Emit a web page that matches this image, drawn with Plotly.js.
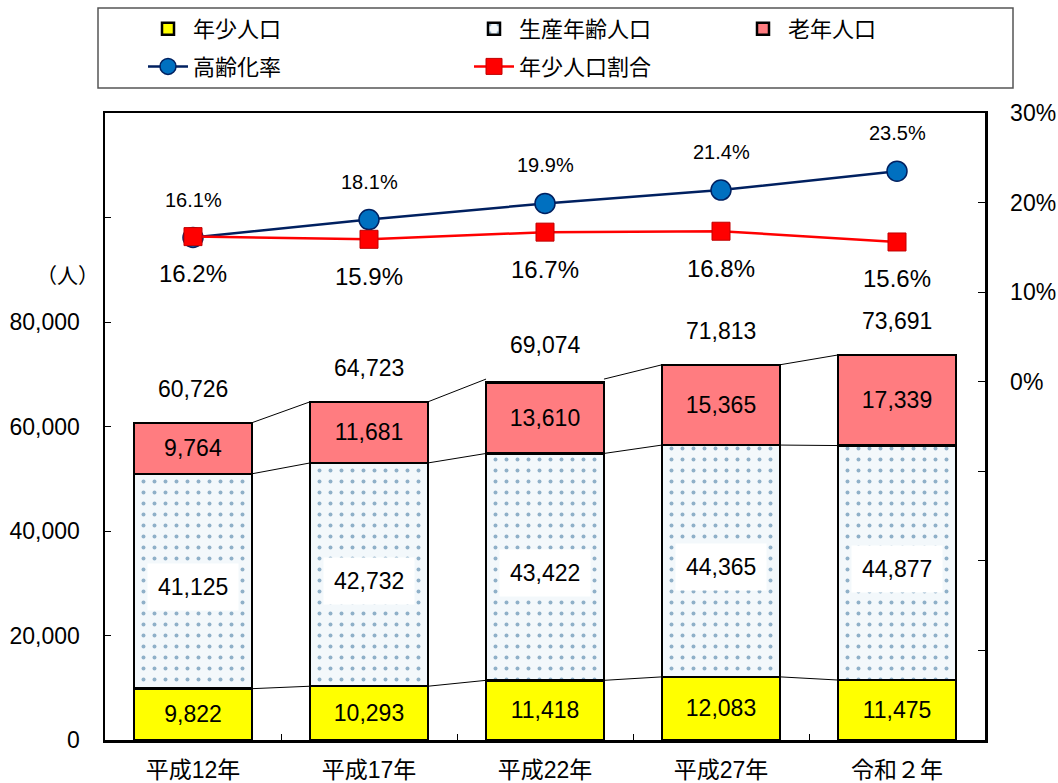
<!DOCTYPE html>
<html>
<head>
<meta charset="utf-8">
<script src="https://cdn.plot.ly/plotly-3.0.1.min.js"></script>
<style>
  html, body { margin: 0; padding: 0; background: #fff; }
  #chart { width: 1058px; height: 783px; }
</style>
</head>
<body>
<div id="chart"></div>
<script>
const categories = ['平成12年', '平成17年', '平成22年', '平成27年', '令和２年'];
const youngPop = [9822, 10293, 11418, 12083, 11475];
const workingPop = [41125, 42732, 43422, 44365, 44877];
const elderlyPop = [9764, 11681, 13610, 15365, 17339];
const totalPop = [60726, 64723, 69074, 71813, 73691];
const agingRate = [16.1, 18.1, 19.9, 21.4, 23.5];
const youngRatio = [16.2, 15.9, 16.7, 16.8, 15.6];
const leftTickVals = [0, 20000, 40000, 60000, 80000, 100000, 120000];
const leftTickText = ['0', '20,000', '40,000', '60,000', '80,000', '', ''];
const rightTickVals = [-40, -30, -20, -10, 0, 10, 20, 30];
const rightTickText = ['', '', '', '', '0%', '10%', '20%', '30%'];

const FONT = 'Liberation Sans, Arial, "Noto Sans CJK JP", sans-serif';
const BAR_W = 0.67;
const fmt = v => v.toLocaleString('en-US');

const barCommon = {
  type: 'bar', x: categories, width: BAR_W,
  textposition: 'inside', insidetextanchor: 'middle',
  textfont: { family: FONT, size: 23, color: '#000' },
  constraintext: 'none', hoverinfo: 'skip'
};

const traces = [
  Object.assign({}, barCommon, {
    name: '年少人口', y: youngPop, texttemplate: '%{y:,}',
    legend: 'legend', legendgroup: 'g1',
    marker: { color: '#ffff00', line: { color: '#000', width: 2.5 } }
  }),
  Object.assign({}, barCommon, {
    name: '生産年齢人口', y: workingPop, texttemplate: '',
    legend: 'legend2', legendgroup: 'g2',
    marker: { color: '#ffffff', line: { color: '#000', width: 2.5 },
      pattern: { shape: '.', fgcolor: '#8fb0c8', bgcolor: '#f3f8fb', size: 11, solidity: 0.1 } }
  }),
  Object.assign({}, barCommon, {
    name: '老年人口', y: elderlyPop, texttemplate: '%{y:,}',
    legend: 'legend3', legendgroup: 'g3',
    marker: { color: '#ff7c80', line: { color: '#000', width: 2.5 } }
  }),
  {
    type: 'scatter', mode: 'lines+markers', name: '高齢化率', x: categories, y: agingRate, yaxis: 'y2',
    legend: 'legend', legendgroup: 'g4',
    line: { color: '#002060', width: 2.5 },
    marker: { symbol: 'circle', size: 20, color: '#0070c0', line: { color: '#002060', width: 1.5 } },
    hoverinfo: 'skip'
  },
  {
    type: 'scatter', mode: 'lines+markers', name: '年少人口割合', x: categories, y: youngRatio, yaxis: 'y2',
    legend: 'legend2', legendgroup: 'g5',
    line: { color: '#ff0000', width: 2.5 },
    marker: { symbol: 'square', size: 18, color: '#ff0000', line: { color: '#c00000', width: 1 } },
    hoverinfo: 'skip'
  }
];

const shapes = [];
const segTops = [
  youngPop,
  youngPop.map((v, i) => v + workingPop[i]),
  totalPop
];
segTops.forEach(arr => {
  for (let i = 0; i < arr.length - 1; i++) {
    shapes.push({ type: 'line', xref: 'x', yref: 'y',
      x0: i + BAR_W / 2, x1: i + 1 - BAR_W / 2, y0: arr[i], y1: arr[i + 1],
      line: { color: '#000', width: 1 }, layer: 'below' });
  }
});
// legend frame
shapes.push({ type: 'rect', xref: 'paper', yref: 'paper',
  x0: (98 - 105) / 880, x1: (1013 - 105) / 880,
  y0: (740 - 88) / 627, y1: (740 - 8) / 627,
  line: { color: '#555', width: 1.5 }, fillcolor: 'rgba(0,0,0,0)' });

const annotations = [];
categories.forEach((c, i) => {
  annotations.push({ x: c, y: youngPop[i] + workingPop[i] / 2, xref: 'x', yref: 'y', yshift: -6,
    text: fmt(workingPop[i]), showarrow: false, bgcolor: '#ffffff', borderpad: 10,
    font: { family: FONT, size: 23, color: '#000' } });
  annotations.push({ x: c, y: totalPop[i], xref: 'x', yref: 'y', yshift: 34,
    text: fmt(totalPop[i]), showarrow: false,
    font: { family: FONT, size: 23, color: '#000' } });
  annotations.push({ x: c, y: agingRate[i], xref: 'x', yref: 'y2', yshift: 38,
    text: agingRate[i].toFixed(1) + '%', showarrow: false,
    font: { family: FONT, size: 20, color: '#000' } });
  annotations.push({ x: c, y: youngRatio[i], xref: 'x', yref: 'y2', yshift: -37,
    text: youngRatio[i].toFixed(1) + '%', showarrow: false,
    font: { family: FONT, size: 24, color: '#000' } });
});
annotations.push({ xref: 'paper', yref: 'paper', x: (67 - 105) / 880, y: (740 - 275) / 627,
  xanchor: 'center', yanchor: 'middle',
  text: '（人）', showarrow: false, font: { family: FONT, size: 21, color: '#000' } });

function legendAt(px) {
  return {
    orientation: 'v', traceorder: 'grouped',
    x: (px - 105) / 880, xanchor: 'left',
    y: (740 - 8) / 627, yanchor: 'top',
    itemwidth: 40, tracegroupgap: 6,
    font: { family: FONT, size: 22, color: '#000' },
    bgcolor: 'rgba(0,0,0,0)', borderwidth: 0
  };
}

const layout = {
  width: 1058, height: 783,
  margin: { l: 105, r: 73, t: 113, b: 43, autoexpand: false },
  paper_bgcolor: '#fff', plot_bgcolor: '#fff',
  barmode: 'stack', bargap: 0.33,
  font: { family: FONT, size: 23, color: '#000' },
  showlegend: true,
  legend: legendAt(143),
  legend2: legendAt(469),
  legend3: legendAt(738),
  xaxis: {
    type: 'category', range: [-0.5, 4.5], tickson: 'boundaries',
    ticks: 'inside', ticklen: 6, tickcolor: '#000', tickwidth: 1,
    showline: true, linecolor: '#000', linewidth: 2.5, mirror: true,
    showgrid: false, ticklabelstandoff: 8,
    tickfont: { family: FONT, size: 23, color: '#000' }
  },
  yaxis: {
    range: [0, 120000], tickvals: leftTickVals, ticktext: leftTickText,
    ticks: 'inside', ticklen: 6, tickcolor: '#000', tickwidth: 1,
    showline: true, linecolor: '#000', linewidth: 2.5,
    showgrid: false, zeroline: false, ticklabelstandoff: 18,
    tickfont: { family: FONT, size: 23, color: '#000' }
  },
  yaxis2: {
    overlaying: 'y', side: 'right',
    range: [-40, 30], tickvals: rightTickVals, ticktext: rightTickText,
    ticks: 'inside', ticklen: 7, tickcolor: '#000', tickwidth: 1,
    showline: true, linecolor: '#000', linewidth: 2.5,
    showgrid: false, zeroline: false, ticklabelstandoff: 18,
    tickfont: { family: FONT, size: 23, color: '#000' }
  },
  shapes: shapes,
  annotations: annotations
};

Plotly.newPlot('chart', traces, layout, { staticPlot: true, displayModeBar: false });
</script>
</body>
</html>
